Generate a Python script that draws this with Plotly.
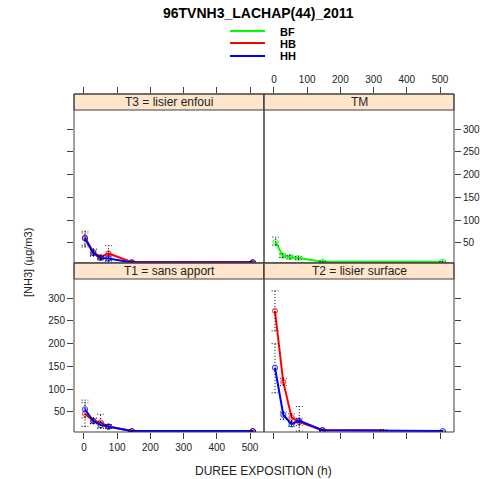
import plotly.graph_objects as go

# ---------------- data ----------------
strip_labels = ["T3 = lisier enfoui", "TM", "T1 = sans apport", "T2 = lisier surface"]
groups = ["BF", "HB", "HH"]
group_colors = ["#00FF00", "#FF0000", "#0000FF"]
x_ticks = [0, 100, 200, 300, 400, 500]
y_ticks = [50, 100, 150, 200, 250, 300]

# T3 = lisier enfoui
t3_hours = [3, 28, 50, 74, 144, 508]
t3_hb = [62, 30, 19, 27, 8, 8]
t3_hb_lo = [41, 23, 15, 10, 7, 7]
t3_hb_hi = [76, 37, 23, 44, 9, 9]
t3_hh = [60, 28, 17, 16, 7, 7]
t3_hh_lo = [45, 21, 13, 11, 6, 6]
t3_hh_hi = [72, 35, 21, 21, 8, 8]

# TM
tm_hours = [5, 26, 48, 73, 147, 508]
tm_bf = [52, 22, 19, 17, 9, 9]
tm_bf_lo = [45, 18, 15, 14, 8, 8]
tm_bf_hi = [63, 26, 23, 20, 10, 10]

# T1 = sans apport
t1_hours = [3, 28, 50, 74, 144, 508]
t1_hb = [46, 31, 27, 18, 8, 8]
t1_hb_lo = [18, 25, 15, 14, 7, 7]
t1_hb_hi = [70, 37, 45, 22, 9, 9]
t1_hh = [56, 30, 21, 18, 8, 8]
t1_hh_lo = [37, 24, 14, 14, 7, 7]
t1_hh_hi = [76, 36, 28, 22, 9, 9]

# T2 = lisier surface
t2_hours_hb = [3, 28, 53, 76, 146, 330]
t2_hb = [272, 116, 38, 28, 10, 10]
t2_hb_lo = [228, 108, 30, 20, 9, 9]
t2_hb_hi = [316, 124, 46, 36, 11, 11]
t2_hours_hh = [3, 28, 53, 76, 146, 508]
t2_hh = [147, 44, 23, 31, 10, 8]
t2_hh_lo = [92, 34, 18, 8, 9, 7]
t2_hh_hi = [200, 50, 28, 62, 11, 9]

# (panel index 1..4, group, x, y, lo, hi, last point has marker)
series = [
    (1, "HB", t3_hours, t3_hb, t3_hb_lo, t3_hb_hi, True),
    (1, "HH", t3_hours, t3_hh, t3_hh_lo, t3_hh_hi, True),
    (2, "BF", tm_hours, tm_bf, tm_bf_lo, tm_bf_hi, True),
    (3, "HB", t1_hours, t1_hb, t1_hb_lo, t1_hb_hi, True),
    (3, "HH", t1_hours, t1_hh, t1_hh_lo, t1_hh_hi, True),
    (4, "HB", t2_hours_hb, t2_hb, t2_hb_lo, t2_hb_hi, False),
    (4, "HH", t2_hours_hh, t2_hh, t2_hh_lo, t2_hh_hi, True),
]

# ---------------- layout geometry (pixels) ----------------
W, H = 485, 479
FONT = "Liberation Sans, Arial, Helvetica, sans-serif"
AXC = "#404040"
TXT = "#222222"

x_left, x_mid, x_right = 74, 264, 454
row_top = [94, 263]      # top of panel box (strip top)
strip_h = 16
row_bot = [263, 432]     # bottom of panel box
x_range = [-30, 542]
y_lo, y_hi = 6, 342      # data range of plotting region (excluding strip)
plot_h = row_bot[0] - (row_top[0] + strip_h)
y_hi_ext = y_lo + (y_hi - y_lo) * (plot_h + strip_h) / plot_h


def px(v):
    return v / W


def py(v):
    return (H - v) / H


fig = go.Figure()

MS = 5
for (p, g, xs, ys, lo, hi, last_mk) in series:
    col = group_colors[groups.index(g)]
    xa = "x" if p == 1 else f"x{p}"
    ya = "y" if p == 1 else f"y{p}"
    sizes = [MS] * len(xs)
    if not last_mk:
        sizes[-1] = 0
    fig.add_trace(go.Scatter(
        x=xs, y=ys, xaxis=xa, yaxis=ya, mode="lines+markers",
        line=dict(color=col, width=2),
        marker=dict(symbol="circle-open", size=sizes, color=col, line=dict(width=1.2, color=col)),
        showlegend=False, name=g))

CAP = 10
for (p, g, xs, ys, lo, hi, last_mk) in series:
    xa = "x" if p == 1 else f"x{p}"
    ya = "y" if p == 1 else f"y{p}"
    ex, ey = [], []
    for xi, l, h in zip(xs, lo, hi):
        ex += [xi, xi, None, xi - CAP, xi + CAP, None, xi - CAP, xi + CAP, None]
        ey += [l, h, None, l, l, None, h, h, None]
    fig.add_trace(go.Scatter(
        x=ex, y=ey, xaxis=xa, yaxis=ya, mode="lines",
        line=dict(color="black", width=1, dash="1px,2px"),
        showlegend=False, hoverinfo="skip"))

common_x = dict(range=x_range, tickvals=x_ticks, ticks="outside", ticklen=6, tickwidth=1,
                tickcolor=AXC, showline=False,
                showgrid=False, zeroline=False, tickfont=dict(family=FONT, size=10, color=TXT))
common_y = dict(range=[y_lo, y_hi_ext], tickvals=y_ticks, ticks="outside", ticklen=6, tickwidth=1,
                tickcolor=AXC, showline=False,
                showgrid=False, zeroline=False, tickfont=dict(family=FONT, size=10, color=TXT))

dom_left = [px(x_left), px(x_mid)]
dom_right = [px(x_mid), px(x_right)]
dom_top = [py(row_bot[0]), py(row_top[0])]
dom_bot = [py(row_bot[1]), py(row_top[1])]

fig.update_layout(
    xaxis=dict(common_x, domain=dom_left, anchor="y", side="top", showticklabels=False),
    xaxis2=dict(common_x, domain=dom_right, anchor="y2", side="top", showticklabels=True),
    xaxis3=dict(common_x, domain=dom_left, anchor="y3", side="bottom", showticklabels=True),
    xaxis4=dict(common_x, domain=dom_right, anchor="y4", side="bottom", showticklabels=False),
    yaxis=dict(common_y, domain=dom_top, anchor="x", side="left", showticklabels=False),
    yaxis2=dict(common_y, domain=dom_top, anchor="x2", side="right", showticklabels=True),
    yaxis3=dict(common_y, domain=dom_bot, anchor="x3", side="left", showticklabels=True),
    yaxis4=dict(common_y, domain=dom_bot, anchor="x4", side="right", showticklabels=False),
)

shapes = []
annotations = []
cols = [(x_left, x_mid), (x_mid, x_right), (x_left, x_mid), (x_mid, x_right)]
rows = [(row_top[0], row_bot[0]), (row_top[0], row_bot[0]),
        (row_top[1], row_bot[1]), (row_top[1], row_bot[1])]
for i, lab in enumerate(strip_labels):
    x0, x1 = cols[i]
    y0, y1 = rows[i]
    shapes.append(dict(type="rect", xref="paper", yref="paper",
                       x0=px(x0), x1=px(x1), y0=py(y0 + strip_h), y1=py(y0),
                       fillcolor="#FFE5CC", line=dict(color=AXC, width=1), layer="above"))
    shapes.append(dict(type="rect", xref="paper", yref="paper",
                       x0=px(x0), x1=px(x1), y0=py(y1), y1=py(y0),
                       line=dict(color=AXC, width=1), layer="above"))
    annotations.append(dict(text=lab, xref="paper", yref="paper", x=px((x0 + x1) / 2),
                            y=py(y0 + strip_h / 2), showarrow=False, xanchor="center",
                            yanchor="middle", font=dict(family=FONT, size=12, color=TXT)))

# legend (key)
leg_y = [31, 43, 56]
for g, c, yy in zip(groups, group_colors, leg_y):
    shapes.append(dict(type="line", xref="paper", yref="paper", x0=px(230), x1=px(265),
                       y0=py(yy), y1=py(yy), line=dict(color=c, width=2)))
    annotations.append(dict(text=f"<b>{g}</b>", xref="paper", yref="paper", x=px(278),
                            y=py(yy + 0.5), showarrow=False, xanchor="left", yanchor="middle",
                            font=dict(family=FONT, size=11, color="black")))

annotations.append(dict(text="<b>96TVNH3_LACHAP(44)_2011</b>", xref="paper", yref="paper",
                        x=px(258), y=py(13), showarrow=False, xanchor="center", yanchor="middle",
                        font=dict(family=FONT, size=14, color="black")))
annotations.append(dict(text="DUREE EXPOSITION (h)", xref="paper", yref="paper",
                        x=px(263), y=py(471), showarrow=False, xanchor="center", yanchor="middle",
                        font=dict(family=FONT, size=12, color=TXT)))
annotations.append(dict(text="[NH3] (µg/m3)", xref="paper", yref="paper", textangle=-90,
                        x=px(28), y=py(263), showarrow=False, xanchor="center", yanchor="middle",
                        font=dict(family=FONT, size=11, color=TXT)))

fig.update_layout(
    width=W, height=H, autosize=False,
    margin=dict(l=0, r=0, t=0, b=0, pad=0),
    paper_bgcolor="white", plot_bgcolor="white",
    shapes=shapes, annotations=annotations, showlegend=False,
)

fig.write_html("out.html")
